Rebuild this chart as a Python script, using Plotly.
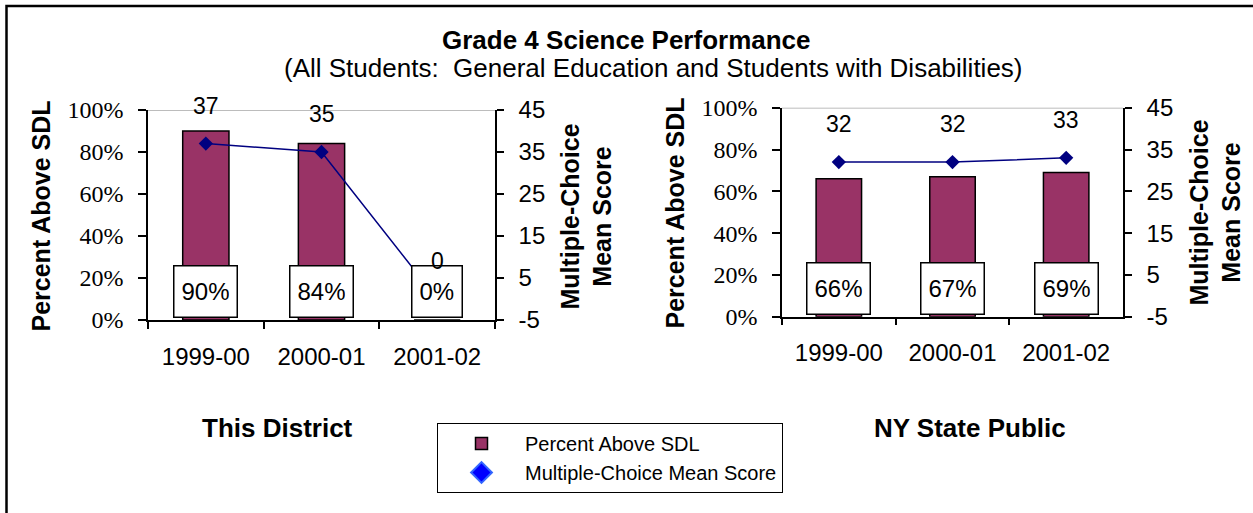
import plotly.graph_objects as go

# ---------------- data ----------------
years = ["1999-00", "2000-01", "2001-02"]
district_pct = [90, 84, 0]          # Percent Above SDL
district_score = [37, 35, 0]        # Multiple-Choice Mean Score
state_pct = [66, 67, 69]
state_score = [32, 32, 33]

pct_ticks = [0, 20, 40, 60, 80, 100]
pct_tick_labels = ["0%", "20%", "40%", "60%", "80%", "100%"]
score_ticks = [-5, 5, 15, 25, 35, 45]
score_tick_labels = ["-5", "5", "15", "25", "35", "45"]

panel_titles = ["This District", "NY State Public"]
bar_name = "Percent Above SDL"
line_name = "Multiple-Choice Mean Score"
left_axis_title = "Percent Above SDL"
right_axis_title = "Multiple-Choice<br>Mean Score"
main_title = "Grade 4 Science Performance"
sub_title = "(All Students:  General Education and Students with Disabilities)"

# ---------------- style ----------------
W, H = 1253, 513
BAR = "#993366"
LINE = "#000080"
SANS = "Liberation Sans"
SERIF = "Liberation Serif"


def fx(p):
    return p / W


def fy(p):
    return 1 - p / H


panels = [
    dict(pct=district_pct, score=district_score, title=panel_titles[0],
         xd=(fx(148), fx(495)), yd=(fy(320), fy(110)),
         x="x", y="y", y2="y2", xo="x3", yo="y3", y2o="y4",
         tx=277.5, lt=(40, 216.5), rt=(585.5, 217)),
    dict(pct=state_pct, score=state_score, title=panel_titles[1],
         xd=(fx(782), fx(1123)), yd=(fy(316.7), fy(107.7)),
         x="x2", y="y5", y2="y6", xo="x4", yo="y7", y2o="y8",
         tx=970, lt=(674, 213.5), rt=(1214.5, 213)),
]


def key(a):
    return ("xaxis" if a[0] == "x" else "yaxis") + a[1:]


def paper_text(x, y, text, size, angle=0):
    return dict(x=fx(x), y=fy(y), xref="paper", yref="paper", text=text,
                showarrow=False, xanchor="center", yanchor="middle",
                textangle=angle, font=dict(family=SANS, size=size, color="black"))


fig = go.Figure()
layout_axes = {}
annotations = []
shapes = []
boundaries = [k - 0.5 for k in range(len(years) + 1)]
tick_common = dict(tickcolor="black", tickwidth=1.5, showgrid=False, zeroline=False)

for i, p in enumerate(panels):
    fig.add_trace(go.Bar(
        x=years, y=p["pct"], xaxis=p["x"], yaxis=p["y"], width=0.4,
        marker=dict(color=BAR, line=dict(color="black", width=1.5)),
        name=bar_name, showlegend=(i == 0), legendrank=1))
    fig.add_trace(go.Scatter(
        x=years, y=p["score"], xaxis=p["x"], yaxis=p["y2"], mode="lines+markers",
        line=dict(color=LINE, width=1.5),
        marker=dict(symbol="diamond", size=11, color=LINE),
        name=line_name, showlegend=False))

    # main category x axis
    layout_axes[key(p["x"])] = dict(
        domain=list(p["xd"]), anchor=p["y"], type="category", categoryarray=years,
        range=[-0.5, len(years) - 0.5], tickson="boundaries", ticks="outside", ticklen=7,
        showline=True, linecolor="black", linewidth=1.5,
        tickfont=dict(family=SANS, size=24, color="black"), ticklabelstandoff=14,
        **tick_common)
    # overlay x axis for the inner half of crossing ticks
    layout_axes[key(p["xo"])] = dict(
        domain=list(p["xd"]), anchor=p["y"], overlaying=p["x"], type="linear",
        range=[-0.5, len(years) - 0.5], tickmode="array", tickvals=boundaries,
        ticks="inside", ticklen=7, showticklabels=False, showline=False, **tick_common)
    # left percent axis
    layout_axes[key(p["y"])] = dict(
        domain=list(p["yd"]), anchor=p["x"], range=[0, 100], tickmode="array",
        tickvals=pct_ticks, ticktext=pct_tick_labels, ticks="outside", ticklen=8,
        showline=True, linecolor="black", linewidth=1.5,
        tickfont=dict(family=SERIF, size=24, color="black"), ticklabelstandoff=10,
        **tick_common)
    layout_axes[key(p["yo"])] = dict(
        domain=list(p["yd"]), anchor=p["x"], overlaying=p["y"], range=[0, 100],
        tickmode="array", tickvals=pct_ticks, ticks="inside", ticklen=7,
        showticklabels=False, showline=False, **tick_common)
    # right score axis
    layout_axes[key(p["y2"])] = dict(
        domain=list(p["yd"]), anchor=p["x"], overlaying=p["y"], side="right",
        range=[-5, 45], tickmode="array", tickvals=score_ticks,
        ticktext=score_tick_labels, ticks="outside",
        ticklen=7, showline=True, linecolor="black", linewidth=1.5,
        tickfont=dict(family=SANS, size=24, color="black"), ticklabelstandoff=10,
        **tick_common)
    layout_axes[key(p["y2o"])] = dict(
        domain=list(p["yd"]), anchor=p["x"], overlaying=p["y"], side="right",
        range=[-5, 45], tickmode="array", tickvals=score_ticks, ticks="inside",
        ticklen=7, showticklabels=False, showline=False, **tick_common)

    # grey line at the top of the plot area (100%)
    shapes.append(dict(type="line", xref=p["x"] + " domain", x0=0, x1=1,
                       yref=p["y"], y0=pct_ticks[-1], y1=pct_ticks[-1],
                       line=dict(color="#A6A6A6", width=1.5), layer="below"))

    # boxed percent labels
    for cat, v in zip(years, p["pct"]):
        annotations.append(dict(
            x=cat, y=0, xref=p["x"], yref=p["y"], text=f"{v}%", showarrow=False,
            xanchor="center", yanchor="bottom", yshift=2, bgcolor="white",
            bordercolor="black", borderwidth=1.5, borderpad=7, height=36,
            font=dict(family=SANS, size=24, color="black")))
    # score labels above points
    for cat, s in zip(years, p["score"]):
        annotations.append(dict(
            x=cat, y=s, xref=p["x"], yref=p["y2"], text=str(s), showarrow=False,
            xanchor="center", yanchor="middle", yshift=38,
            font=dict(family=SANS, size=23, color="black")))

    # axis titles and panel title
    annotations.append(paper_text(p["lt"][0], p["lt"][1],
                                  f"<b>{left_axis_title}</b>", 25, -90))
    annotations.append(paper_text(p["rt"][0], p["rt"][1],
                                  f"<b>{right_axis_title}</b>", 25, -90))
    annotations.append(paper_text(p["tx"], 428, f"<b>{p['title']}</b>", 26))

# legend-only diamond entry
fig.add_trace(go.Scatter(
    x=[None], y=[None], mode="markers", name=line_name,
    marker=dict(symbol="diamond", size=16, color="#0000FF",
                line=dict(color="#3366FF", width=2)),
    legendrank=2))

annotations.append(paper_text(626.5, 40, f"<b>{main_title}</b>", 26))
annotations.append(paper_text(653, 68, sub_title, 26))

# outer frame (extends past right/bottom edges)
shapes.append(dict(type="rect", xref="paper", yref="paper",
                   x0=fx(6.5), x1=1.2, y0=-0.2, y1=fy(6),
                   line=dict(color="black", width=2.5)))

fig.update_layout(
    width=W, height=H,
    margin=dict(l=0, r=0, t=0, b=0, pad=0, autoexpand=False),
    paper_bgcolor="white", plot_bgcolor="rgba(0,0,0,0)",
    showlegend=True,
    legend=dict(x=fx(437), y=fy(423), xanchor="left", yanchor="top",
                bgcolor="white", bordercolor="black", borderwidth=1,
                font=dict(family=SANS, size=20, color="black"),
                itemwidth=77, tracegroupgap=0),
    annotations=annotations, shapes=shapes, bargap=0.6,
    **layout_axes)

fig.write_html(
    "out.html",
    config={"displayModeBar": False},
    post_script="document.body.style.margin='0px';document.body.style.overflow='hidden';")
